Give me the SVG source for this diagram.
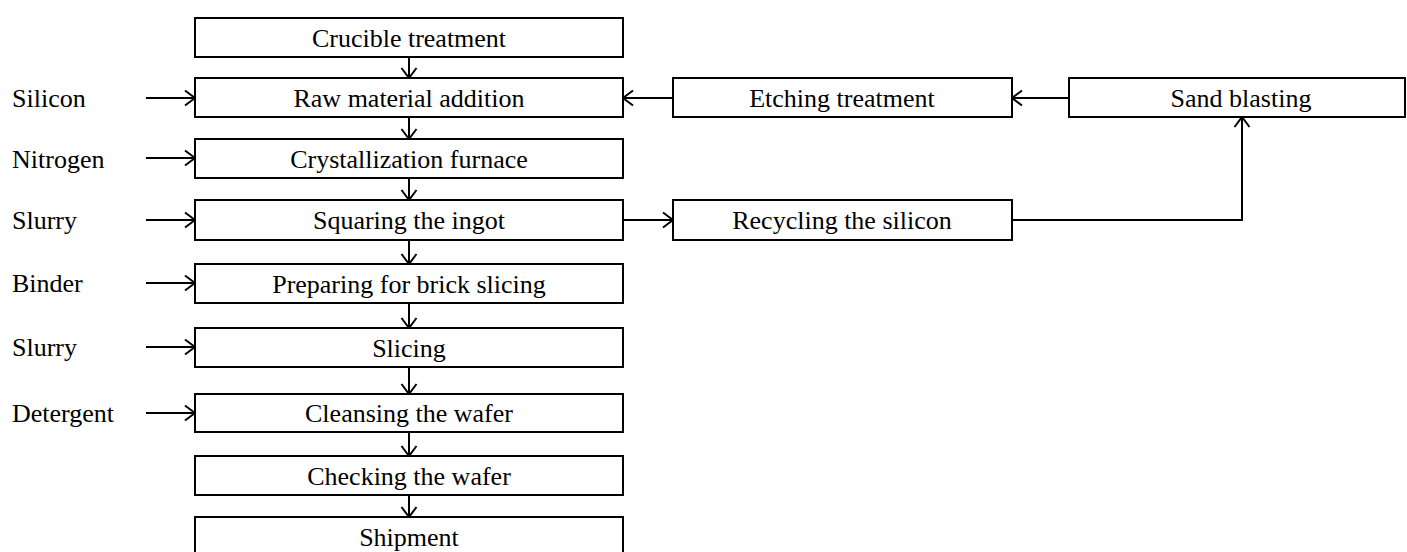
<svg xmlns="http://www.w3.org/2000/svg" width="1407" height="552" viewBox="0 0 1407 552">
<defs>
<marker id="arr" viewBox="0 0 12 18" refX="11" refY="9" markerWidth="12" markerHeight="18" markerUnits="userSpaceOnUse" orient="auto">
<path d="M1,1.5 L11,9 L1,16.5" fill="none" stroke="#000" stroke-width="2"/>
</marker>
<style>
.box{fill:#fff;stroke:#000;stroke-width:2}
.t{font-family:"Liberation Serif","Times New Roman",serif;font-size:26px;fill:#000;text-anchor:middle}
.l{font-family:"Liberation Serif","Times New Roman",serif;font-size:26px;fill:#000}
.c{fill:none;stroke:#000;stroke-width:2;marker-end:url(#arr)}
</style>
</defs>
<rect width="1407" height="552" fill="#fff"/>
<g id="n-crucible"><rect class="box" x="195" y="18" width="428" height="39"/><text class="t" x="409" y="47">Crucible treatment</text></g>
<g id="n-raw"><rect class="box" x="195" y="78" width="428" height="39"/><text class="t" x="409" y="107">Raw material addition</text></g>
<g id="n-cryst"><rect class="box" x="195" y="139" width="428" height="39"/><text class="t" x="409" y="168">Crystallization  furnace</text></g>
<g id="n-squaring"><rect class="box" x="195" y="200" width="428" height="40"/><text class="t" x="409" y="229">Squaring the ingot</text></g>
<g id="n-preparing"><rect class="box" x="195" y="264" width="428" height="39"/><text class="t" x="409" y="293">Preparing  for brick  slicing</text></g>
<g id="n-slicing"><rect class="box" x="195" y="328" width="428" height="39"/><text class="t" x="409" y="357">Slicing</text></g>
<g id="n-cleansing"><rect class="box" x="195" y="394" width="428" height="38"/><text class="t" x="409" y="422">Cleansing  the wafer</text></g>
<g id="n-checking"><rect class="box" x="195" y="456" width="428" height="39"/><text class="t" x="409" y="485">Checking the wafer</text></g>
<g id="n-shipment"><rect class="box" x="195" y="517" width="428" height="45"/><text class="t" x="409" y="546">Shipment</text></g>
<g id="n-etching"><rect class="box" x="673" y="78" width="339" height="39"/><text class="t" x="842" y="107">Etching treatment</text></g>
<g id="n-sand"><rect class="box" x="1069" y="78" width="336" height="39"/><text class="t" x="1241" y="107">Sand blasting</text></g>
<g id="n-recycling"><rect class="box" x="673" y="200" width="339" height="40"/><text class="t" x="842" y="229">Recycling the silicon</text></g>
<g id="inputs">
<text class="l" x="12" y="107">Silicon</text>
<text class="l" x="12" y="168">Nitrogen</text>
<text class="l" x="12" y="229">Slurry</text>
<text class="l" x="12" y="292">Binder</text>
<text class="l" x="12" y="356">Slurry</text>
<text class="l" x="12" y="422">Detergent</text>
</g>
<g id="connectors">
<path class="c" d="M409,57 V78"/>
<path class="c" d="M409,117 V139"/>
<path class="c" d="M409,178 V200"/>
<path class="c" d="M409,240 V264"/>
<path class="c" d="M409,303 V328"/>
<path class="c" d="M409,367 V394"/>
<path class="c" d="M409,432 V456"/>
<path class="c" d="M409,495 V517"/>
<path class="c" d="M146,98 H195"/>
<path class="c" d="M146,158 H195"/>
<path class="c" d="M146,220 H195"/>
<path class="c" d="M146,283 H195"/>
<path class="c" d="M146,347 H195"/>
<path class="c" d="M146,413 H195"/>
<path class="c" d="M673,98 H623"/>
<path class="c" d="M1069,98 H1012"/>
<path class="c" d="M623,220 H673"/>
<path class="c" d="M1012,220 H1242 V117"/>
</g>
</svg>
